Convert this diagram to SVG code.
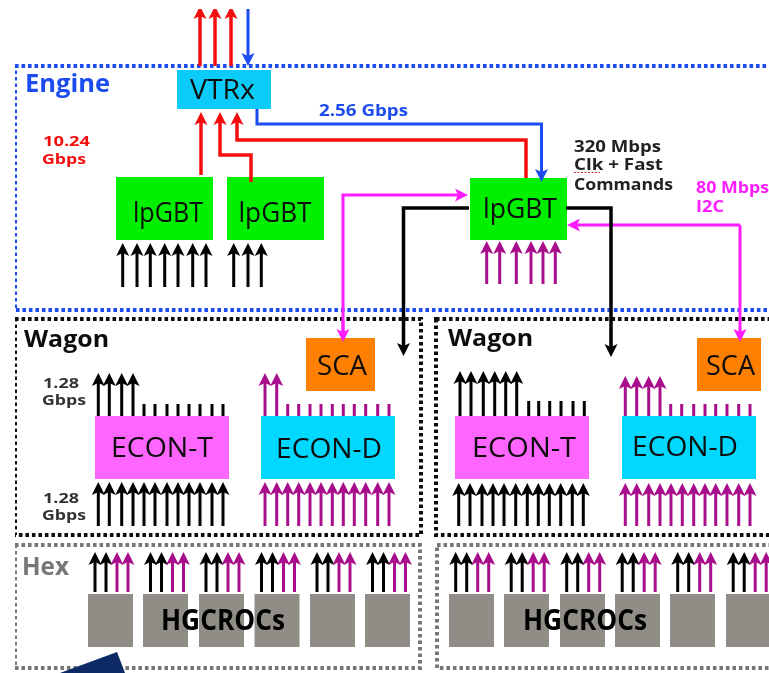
<svg xmlns="http://www.w3.org/2000/svg" width="769" height="673" viewBox="0 0 769 673">
<style>
text{font-family:"Open Sans","Liberation Sans",sans-serif}
.n{font-size:28px;fill:#0a0a0a}
.l{font-weight:700}
.b{fill:none;stroke-width:4;stroke-dasharray:3.6 2.9}
.a{fill:none;stroke-width:3}
.k{stroke:#000;marker-end:url(#mk)}
.p{stroke:#a80f8c;marker-end:url(#mp)}
.ks{stroke:#000;stroke-width:3}
.ps{stroke:#a80f8c;stroke-width:3}
</style>
<defs>
<filter id="soft" x="0" y="0" width="100%" height="100%"><feGaussianBlur stdDeviation="0.55"/></filter>
<marker id="mk" viewBox="0 -7 14 14" markerWidth="14" markerHeight="14" refX="5" refY="0" markerUnits="userSpaceOnUse" orient="auto"><path d="M0-6.5 13 0 0 6.5 3 0Z" fill="#000"/></marker>
<marker id="mp" viewBox="0 -7 14 14" markerWidth="14" markerHeight="14" refX="5" refY="0" markerUnits="userSpaceOnUse" orient="auto"><path d="M0-6.5 13 0 0 6.5 3 0Z" fill="#a80f8c"/></marker>
<marker id="mr" viewBox="0 -7 14 14" markerWidth="14" markerHeight="14" refX="5" refY="0" markerUnits="userSpaceOnUse" orient="auto"><path d="M0-6.5 13 0 0 6.5 3 0Z" fill="#f5100f"/></marker>
<marker id="mb" viewBox="0 -7 14 14" markerWidth="14" markerHeight="14" refX="5" refY="0" markerUnits="userSpaceOnUse" orient="auto"><path d="M0-6.5 13 0 0 6.5 3 0Z" fill="#1c4cf0"/></marker>
<marker id="mm" viewBox="0 -7 14 14" markerWidth="14" markerHeight="14" refX="5" refY="0" markerUnits="userSpaceOnUse" orient="auto"><path d="M0-6.5 13 0 0 6.5 3 0Z" fill="#ff1cff"/></marker>
<g id="hexA">
<line class="a k" x1="0" y1="592" x2="0" y2="560"/><line class="a k" x1="11" y1="592" x2="11" y2="560"/>
<line class="a p" x1="22" y1="592" x2="22" y2="560"/><line class="a p" x1="33" y1="592" x2="33" y2="560"/>
</g>
</defs>
<rect width="769" height="673" fill="#fff"/>
<g filter="url(#soft)">
<g id="engine"><rect class="b" x="15" y="66" width="800" height="244" stroke="#1c4cf0"/>
<text class="l" x="25" y="92" font-size="25" fill="#1c4cf0" textLength="85" lengthAdjust="spacingAndGlyphs">Engine</text></g>
<g id="wagon-1"><rect class="b" x="15" y="319" width="406" height="216" stroke="#111"/>
<text class="l" x="24" y="347" font-size="24" fill="#111" textLength="85" lengthAdjust="spacingAndGlyphs">Wagon</text></g>
<g id="wagon-2"><rect class="b" x="436" y="319" width="400" height="216" stroke="#111"/>
<text class="l" x="448" y="346" font-size="24" fill="#111" textLength="85" lengthAdjust="spacingAndGlyphs">Wagon</text></g>
<g id="hex-1"><rect class="b" x="15" y="545" width="405" height="123" stroke="#777" stroke-width="3"/>
<text class="l" x="22" y="575" font-size="25" fill="#777" textLength="47" lengthAdjust="spacingAndGlyphs">Hex</text></g>
<g id="hex-2"><rect class="b" x="437" y="545" width="400" height="123" stroke="#777" stroke-width="3"/></g>

<g id="vtrx"><rect x="177" y="70" width="94" height="39" fill="#0ccbf8"/><text class="n" x="190" y="99" textLength="65" lengthAdjust="spacingAndGlyphs">VTRx</text></g>
<g id="lpgbt-1"><rect x="116" y="177" width="97" height="63" fill="#00f000"/><text class="n" x="133" y="222" textLength="70" lengthAdjust="spacingAndGlyphs">lpGBT</text></g>
<g id="lpgbt-2"><rect x="227" y="177" width="97" height="63" fill="#00f000"/><text class="n" x="238.500" y="222" textLength="73" lengthAdjust="spacingAndGlyphs">lpGBT</text></g>
<g id="lpgbt-3"><rect x="470" y="178" width="97" height="62" fill="#00f000"/><text class="n" x="483" y="218" textLength="74" lengthAdjust="spacingAndGlyphs">lpGBT</text></g>
<g id="sca-1"><rect x="306" y="338" width="69" height="53" fill="#ff8000"/><text class="n" x="317" y="375" textLength="50" lengthAdjust="spacingAndGlyphs">SCA</text></g>
<g id="sca-2"><rect x="697" y="338" width="64" height="53" fill="#ff8000"/><text class="n" x="706" y="375" textLength="49" lengthAdjust="spacingAndGlyphs">SCA</text></g>
<g id="econ-t-1"><rect x="95" y="416" width="134" height="63" fill="#ff66ff"/><text class="n" x="111" y="457" textLength="102" lengthAdjust="spacingAndGlyphs">ECON-T</text></g>
<g id="econ-d-1"><rect x="261" y="416" width="134" height="63" fill="#00d8ff"/><text class="n" x="276" y="458" textLength="106" lengthAdjust="spacingAndGlyphs">ECON-D</text></g>
<g id="econ-t-2"><rect x="455" y="416" width="134" height="63" fill="#ff66ff"/><text class="n" x="472" y="457" textLength="104" lengthAdjust="spacingAndGlyphs">ECON-T</text></g>
<g id="econ-d-2"><rect x="622" y="416" width="134" height="63" fill="#00d8ff"/><text class="n" x="632" y="456" textLength="106" lengthAdjust="spacingAndGlyphs">ECON-D</text></g>
<g id="hgcrocs-1" fill="#8f8d86"><rect x="88" y="594" width="45" height="53"/><rect x="143" y="594" width="45" height="53"/><rect x="199" y="594" width="45" height="53"/><rect x="254.500" y="594" width="45" height="53"/><rect x="310" y="594" width="45" height="53"/><rect x="365" y="594" width="45" height="53"/>
<text x="161" y="630" font-size="28" font-weight="700" fill="#000" textLength="124" lengthAdjust="spacingAndGlyphs">HGCROCs</text></g>
<g id="hgcrocs-2" fill="#8f8d86"><rect x="449" y="594" width="45" height="53"/><rect x="504" y="594" width="45" height="53"/><rect x="560" y="594" width="45" height="53"/><rect x="615" y="594" width="45" height="53"/><rect x="670" y="594" width="45" height="53"/><rect x="726" y="594" width="45" height="53"/>
<text x="523" y="630" font-size="28" font-weight="700" fill="#000" textLength="124" lengthAdjust="spacingAndGlyphs">HGCROCs</text></g>

<g id="connectors">
<g fill="none" stroke-width="3.500" stroke="#f5100f" marker-end="url(#mr)">
<path d="M200 66V14"/><path d="M215 66V14"/><path d="M231 66V14"/>
<path d="M201 175V120"/><path d="M251 182V155H220V120"/><path d="M526 178V140H237V120"/>
</g>
<g fill="none" stroke-width="3" stroke="#1c4cf0" marker-end="url(#mb)">
<path d="M248 9V58"/><path d="M257 109V124H541.500V174"/>
</g>
<g fill="none" stroke-width="3" stroke="#ff1cff" marker-end="url(#mm)">
<path d="M343 334V195H460"/><path d="M343 320V334"/>
<path d="M740 225V334"/><path d="M740 225H575"/>
</g>
<g fill="none" stroke-width="3.500" stroke="#000" marker-end="url(#mk)">
<path d="M469 208H403.500V348"/><path d="M566 208H611V349"/>
</g>
<g id="up-lpgbt">
<line class="a k" x1="122.700" y1="287" x2="122.700" y2="251"/><line class="a k" x1="137" y1="287" x2="137" y2="251"/><line class="a k" x1="150.300" y1="287" x2="150.300" y2="251"/><line class="a k" x1="164.700" y1="287" x2="164.700" y2="251"/><line class="a k" x1="178" y1="287" x2="178" y2="251"/><line class="a k" x1="192.700" y1="287" x2="192.700" y2="251"/><line class="a k" x1="206" y1="287" x2="206" y2="251"/>
<line class="a k" x1="233.700" y1="287" x2="233.700" y2="251"/><line class="a k" x1="248" y1="287" x2="248" y2="251"/><line class="a k" x1="261.300" y1="287" x2="261.300" y2="251"/>
<line class="a p" x1="486.700" y1="284" x2="486.700" y2="249"/><line class="a p" x1="499.700" y1="284" x2="499.700" y2="249"/><line class="a p" x1="516.300" y1="284" x2="516.300" y2="249"/><line class="a p" x1="531" y1="284" x2="531" y2="249"/><line class="a p" x1="543" y1="284" x2="543" y2="249"/><line class="a p" x1="555.300" y1="284" x2="555.300" y2="249"/>
</g>
<g id="wagon1-links">
<line class="a k" x1="98.300" y1="416" x2="98.300" y2="381"/><line class="a k" x1="109.300" y1="416" x2="109.300" y2="381"/><line class="a k" x1="121.700" y1="416" x2="121.700" y2="381"/><line class="a k" x1="133" y1="416" x2="133" y2="381"/>
<path class="ks" d="M144 404V416M155 404V416M167 404V416M178 404V416M189 404V416M200 404V416M212 404V416M223 404V416"/>
<line class="a k" x1="98.300" y1="526" x2="98.300" y2="490"/><line class="a k" x1="109.300" y1="526" x2="109.300" y2="490"/><line class="a k" x1="121.700" y1="526" x2="121.700" y2="490"/><line class="a k" x1="133" y1="526" x2="133" y2="490"/><line class="a k" x1="144" y1="526" x2="144" y2="490"/><line class="a k" x1="155" y1="526" x2="155" y2="490"/><line class="a k" x1="167" y1="526" x2="167" y2="490"/><line class="a k" x1="178" y1="526" x2="178" y2="490"/><line class="a k" x1="189" y1="526" x2="189" y2="490"/><line class="a k" x1="200" y1="526" x2="200" y2="490"/><line class="a k" x1="212" y1="526" x2="212" y2="490"/><line class="a k" x1="223" y1="526" x2="223" y2="490"/>
<line class="a p" x1="265" y1="416" x2="265" y2="381"/><line class="a p" x1="276.700" y1="416" x2="276.700" y2="381"/>
<path class="ps" d="M287.700 404V416M298.700 404V416M310 404V416M321 404V416M332.300 404V416M343.300 404V416M354.300 404V416M365.700 404V416M377.700 404V416M389 404V416"/>
<line class="a p" x1="265" y1="526" x2="265" y2="490"/><line class="a p" x1="276.700" y1="526" x2="276.700" y2="490"/><line class="a p" x1="287.700" y1="526" x2="287.700" y2="490"/><line class="a p" x1="298.700" y1="526" x2="298.700" y2="490"/><line class="a p" x1="310" y1="526" x2="310" y2="490"/><line class="a p" x1="321" y1="526" x2="321" y2="490"/><line class="a p" x1="332.300" y1="526" x2="332.300" y2="490"/><line class="a p" x1="343.300" y1="526" x2="343.300" y2="490"/><line class="a p" x1="354.300" y1="526" x2="354.300" y2="490"/><line class="a p" x1="365.700" y1="526" x2="365.700" y2="490"/><line class="a p" x1="377.700" y1="526" x2="377.700" y2="490"/><line class="a p" x1="389" y1="526" x2="389" y2="490"/>
</g>
<g id="wagon2-links">
<line class="a k" x1="460" y1="416" x2="460" y2="379"/><line class="a k" x1="471" y1="416" x2="471" y2="379"/><line class="a k" x1="483.300" y1="416" x2="483.300" y2="379"/><line class="a k" x1="494.700" y1="416" x2="494.700" y2="379"/><line class="a k" x1="505.700" y1="416" x2="505.700" y2="379"/><line class="a k" x1="516.700" y1="416" x2="516.700" y2="379"/>
<path class="ks" d="M528.700 401V416M538.700 401V416M549.700 401V416M561 401V416M573 401V416M584.300 401V416"/>
<line class="a k" x1="458.700" y1="526" x2="458.700" y2="491"/><line class="a k" x1="470" y1="526" x2="470" y2="491"/><line class="a k" x1="482" y1="526" x2="482" y2="491"/><line class="a k" x1="493" y1="526" x2="493" y2="491"/><line class="a k" x1="504" y1="526" x2="504" y2="491"/><line class="a k" x1="515.700" y1="526" x2="515.700" y2="491"/><line class="a k" x1="527.300" y1="526" x2="527.300" y2="491"/><line class="a k" x1="538.300" y1="526" x2="538.300" y2="491"/><line class="a k" x1="549.300" y1="526" x2="549.300" y2="491"/><line class="a k" x1="560.700" y1="526" x2="560.700" y2="491"/><line class="a k" x1="572.300" y1="526" x2="572.300" y2="491"/><line class="a k" x1="583.300" y1="526" x2="583.300" y2="491"/>
<line class="a p" x1="625.300" y1="416" x2="625.300" y2="384"/><line class="a p" x1="636.700" y1="416" x2="636.700" y2="384"/><line class="a p" x1="648.700" y1="416" x2="648.700" y2="384"/><line class="a p" x1="660" y1="416" x2="660" y2="384"/>
<path class="ps" d="M670.700 404V416M681.700 404V416M693.700 404V416M705 404V416M715.700 404V416M727 404V416M738.700 404V416M750 404V416"/>
<line class="a p" x1="625.300" y1="526" x2="625.300" y2="491"/><line class="a p" x1="636.700" y1="526" x2="636.700" y2="491"/><line class="a p" x1="648.700" y1="526" x2="648.700" y2="491"/><line class="a p" x1="660" y1="526" x2="660" y2="491"/><line class="a p" x1="671" y1="526" x2="671" y2="491"/><line class="a p" x1="682.300" y1="526" x2="682.300" y2="491"/><line class="a p" x1="693.700" y1="526" x2="693.700" y2="491"/><line class="a p" x1="705" y1="526" x2="705" y2="491"/><line class="a p" x1="715.700" y1="526" x2="715.700" y2="491"/><line class="a p" x1="727" y1="526" x2="727" y2="491"/><line class="a p" x1="738.700" y1="526" x2="738.700" y2="491"/><line class="a p" x1="750" y1="526" x2="750" y2="491"/>
</g>
<g id="hex-links">
<use href="#hexA" x="95"/><use href="#hexA" x="150.500"/><use href="#hexA" x="206"/><use href="#hexA" x="261.500"/><use href="#hexA" x="317"/><use href="#hexA" x="372.500"/>
<use href="#hexA" x="455.700"/><use href="#hexA" x="511.200"/><use href="#hexA" x="566.700"/><use href="#hexA" x="622.200"/><use href="#hexA" x="677.700"/><use href="#hexA" x="733.200"/>
</g>
</g>

<g id="labels" class="l">
<text class="l" x="43" y="146" font-size="15" fill="#f5100f" textLength="47" lengthAdjust="spacingAndGlyphs">10.24</text>
<text class="l" x="42" y="164" font-size="15" fill="#f5100f" textLength="44" lengthAdjust="spacingAndGlyphs">Gbps</text>
<text class="l" x="319" y="116" font-size="16" fill="#1c4cf0" textLength="89" lengthAdjust="spacingAndGlyphs">2.56 Gbps</text>
<text class="l" x="574" y="152" font-size="16" fill="#222" textLength="87" lengthAdjust="spacingAndGlyphs">320 Mbps</text>
<text class="l" x="574" y="170" font-size="16" fill="#222" textLength="89" lengthAdjust="spacingAndGlyphs">Clk + Fast</text>
<path d="M574 172.500H600" stroke="#e03030" stroke-width="1.200" stroke-dasharray="2 1.500" fill="none"/>
<text class="l" x="574" y="190" font-size="16" fill="#222" textLength="99" lengthAdjust="spacingAndGlyphs">Commands</text>
<text class="l" x="696" y="193" font-size="16" fill="#ff1cff" textLength="73" lengthAdjust="spacingAndGlyphs">80 Mbps</text>
<text class="l" x="696" y="212" font-size="16" fill="#ff1cff" textLength="28" lengthAdjust="spacingAndGlyphs">I2C</text>
<text class="l" x="43" y="388" font-size="15" fill="#333" textLength="36" lengthAdjust="spacingAndGlyphs">1.28</text>
<text class="l" x="42" y="405" font-size="15" fill="#333" textLength="44" lengthAdjust="spacingAndGlyphs">Gbps</text>
<text class="l" x="43" y="503" font-size="15" fill="#333" textLength="36" lengthAdjust="spacingAndGlyphs">1.28</text>
<text class="l" x="42" y="520" font-size="15" fill="#333" textLength="44" lengthAdjust="spacingAndGlyphs">Gbps</text>
</g>
<polygon points="60,673 117,652 125,673" fill="#0a2a66"/>
</g>
</svg>
